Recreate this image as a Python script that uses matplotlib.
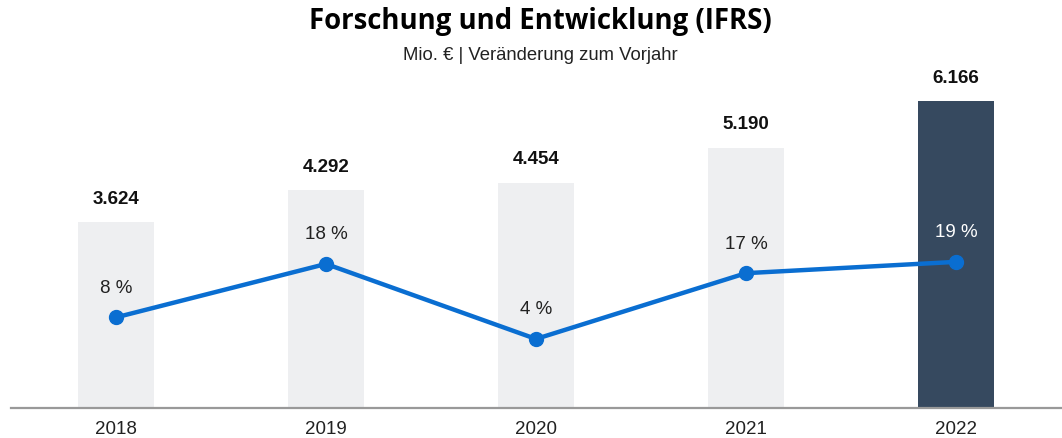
import numpy as np
import matplotlib.pyplot as plt

# Daten
jahre = ['2018', '2019', '2020', '2021', '2022']
fue = [3624, 4292, 4454, 5190, 6166]
veraenderung = [8.0, 18.4, 3.8, 16.6, 18.8]
bar_labels = ['3.624', '4.292', '4.454', '5.190', '6.166']

plt.rcParams['font.family'] = ['Liberation Sans', 'DejaVu Sans']

fig = plt.figure(figsize=(10.62, 4.38), dpi=100)
ax = fig.add_axes([11 / 1062, 30 / 438, 1051 / 1062, 348 / 438])
x = np.arange(len(jahre))

# Achse beginnt leicht unter 0
y0 = -279
ymax = 7027
farben = ['#eeeff1'] * 4 + ['#36495f']
ax.bar(x, np.array(fue) - y0, bottom=y0, width=0.362, color=farben, zorder=1)
for i, v in enumerate(fue):
    ax.annotate(bar_labels[i], (x[i], v), xytext=(0, 16.5), textcoords='offset points',
                ha='center', va='center', fontsize=13.5, fontweight='bold', color='#111111')

ax.set_xlim(-0.5, 4.505)
ax.set_ylim(y0, ymax)
ax.set_yticks([])
ax.set_xticks(x)
ax.set_xticklabels(jahre, fontsize=13.5, color='#222222')
ax.tick_params(axis='x', length=0, pad=9)
for s in ['top', 'right', 'left']:
    ax.spines[s].set_visible(False)
ax.spines['bottom'].set_color('#999999')
ax.spines['bottom'].set_linewidth(1.6)

# Veraenderung zum Vorjahr
ax2 = ax.twinx()
ax2.plot(x, veraenderung, color='#0a6ed1', lw=3.2, marker='o', ms=10, zorder=3)
ax2.set_ylim(-49.5 / 5.14, (348 - 49.5) / 5.14)
ax2.set_yticks([])
for s in ax2.spines.values():
    s.set_visible(False)
for i, v in enumerate(veraenderung):
    ax2.annotate(f'{round(v)} %', (x[i], v), xytext=(0, 21), textcoords='offset points',
                 ha='center', va='center', fontsize=13.5,
                 color='white' if i == 4 else '#222222')

fig.text(540 / 1062, 1 - 22 / 438, 'Forschung und Entwicklung (IFRS)', ha='center', va='center',
         fontsize=19.8, fontweight='bold', family=['Open Sans', 'DejaVu Sans'])
fig.text(540 / 1062, 1 - 55 / 438, 'Mio. € | Veränderung zum Vorjahr', ha='center', va='center',
         fontsize=13.3, color='#222222')

fig.savefig('out.png', dpi=100)
